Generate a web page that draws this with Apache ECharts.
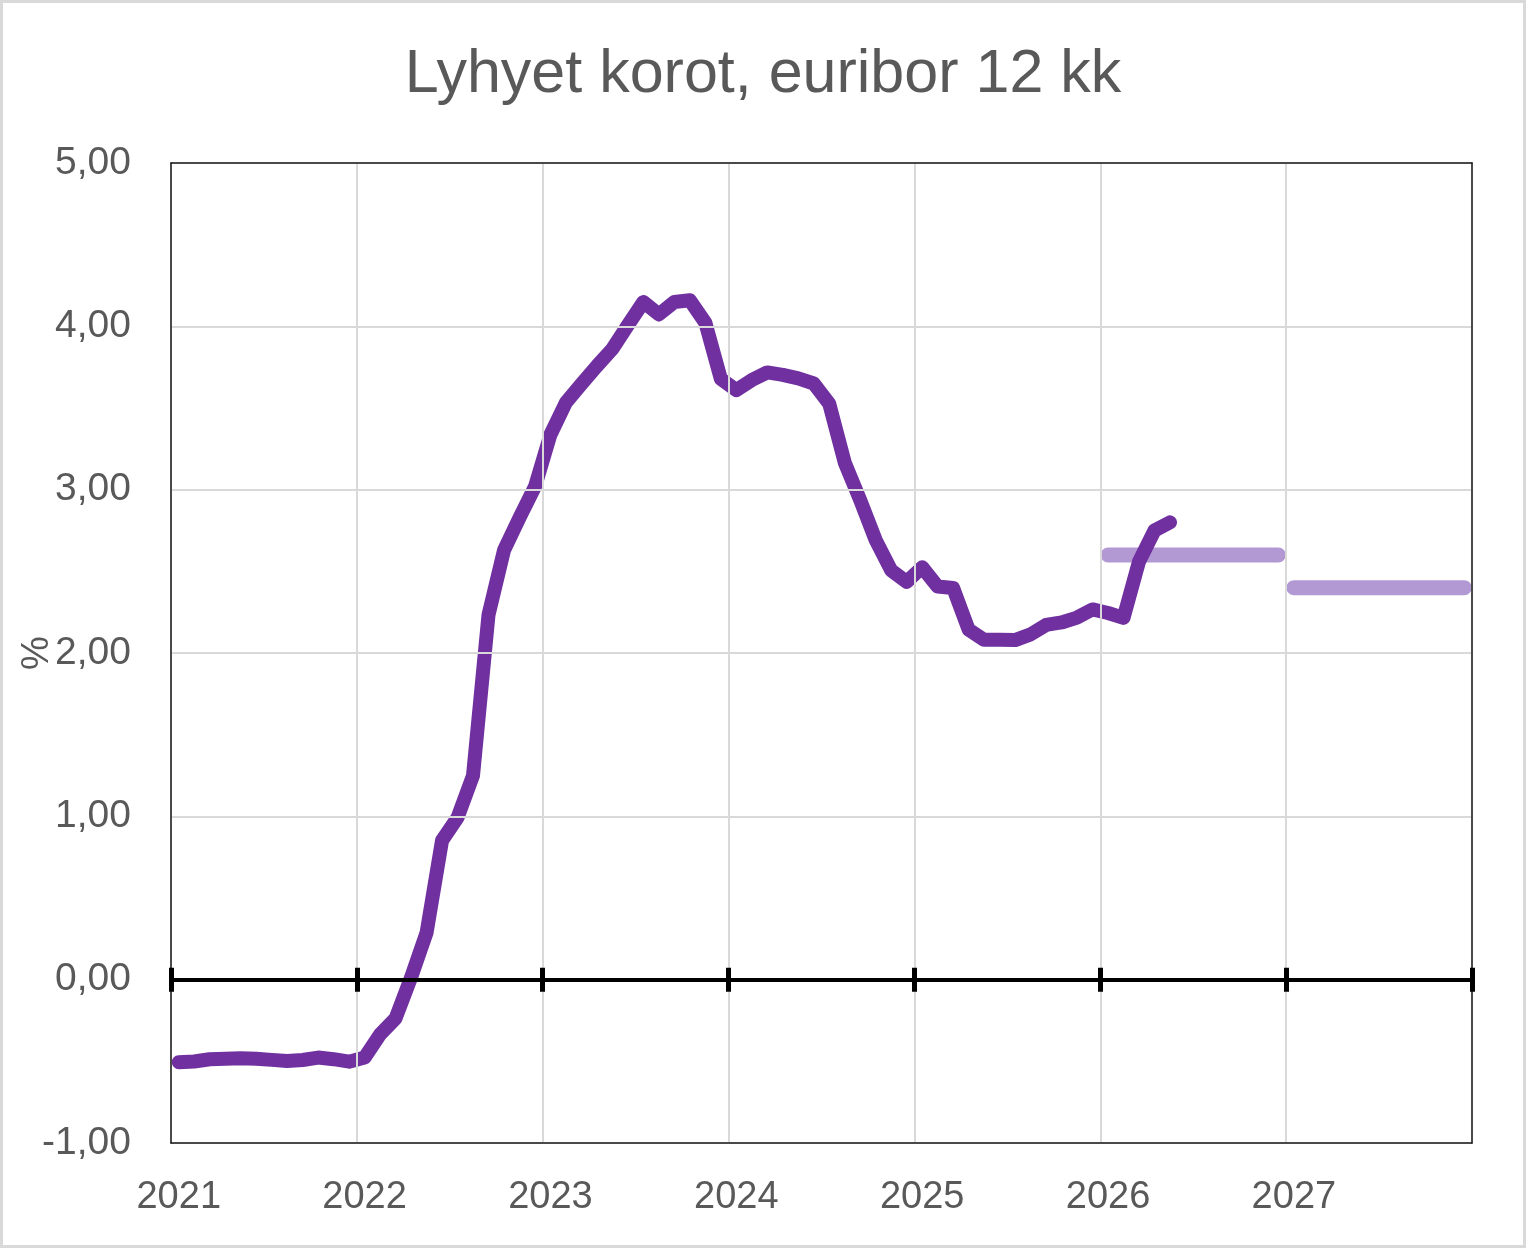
<!DOCTYPE html>
<html>
<head>
<meta charset="utf-8">
<script src="https://cdn.jsdelivr.net/npm/echarts@6/dist/echarts.min.js"></script>
<style>
  html, body { margin: 0; padding: 0; background: #fff; }
  #chart { width: 1526px; height: 1248px; }
</style>
</head>
<body>
<div id="chart"></div>
<script>
// vuodet ja kuukaudet x-akselille
var years = ['2021', '2022', '2023', '2024', '2025', '2026', '2027'];
var months = ['01', '02', '03', '04', '05', '06', '07', '08', '09', '10', '11', '12'];

// euribor 12 kk, kuukausikeskiarvot (%)
var euribor12 = [
    -0.505, -0.501, -0.487, -0.484, -0.481, -0.484, -0.491, -0.498, -0.492, -0.477, -0.487, -0.502,
    -0.477, -0.335, -0.237, 0.013, 0.287, 0.852, 0.992, 1.249, 2.233, 2.629, 2.828, 3.018,
    3.337, 3.534, 3.647, 3.757, 3.862, 4.007, 4.149, 4.073, 4.149, 4.160, 4.022, 3.679,
    3.609, 3.671, 3.718, 3.703, 3.681, 3.650, 3.526, 3.166, 2.936, 2.691, 2.506, 2.436,
    2.525, 2.407, 2.398, 2.143, 2.081, 2.081, 2.079, 2.114, 2.172, 2.187, 2.217, 2.267,
    2.245, 2.215, 2.56, 2.75, 2.80
];

// ennusteet
var ennuste2026 = [2.60, 2.60, 2.60, 2.60, 2.60, 2.60, 2.60, 2.60, 2.60, 2.60, 2.60, 2.60];
var ennuste2027 = [2.40, 2.40, 2.40, 2.40, 2.40, 2.40, 2.40, 2.40, 2.40, 2.40, 2.40, 2.40];

var yTicks = [-1, 0, 1, 2, 3, 4, 5];

var categories = [];
for (var i = 0; i < years.length; i++) {
    for (var j = 0; j < months.length; j++) {
        categories.push(years[i] + '-' + months[j]);
    }
}

function padSeries(values, start) {
    var out = [];
    for (var k = 0; k < categories.length; k++) {
        var v = values[k - start];
        out.push(v === undefined ? null : v);
    }
    return out;
}

var chartDom = document.getElementById('chart');
var myChart = echarts.init(chartDom);
var font = '"Liberation Sans", Arial, sans-serif';
var grey = '#595959';
var frame = { show: true, onZero: false, lineStyle: { color: '#1a1a1a', width: 1.5 } };

var option = {
    animation: false,
    backgroundColor: '#ffffff',
    title: {
        text: 'Lyhyet korot, euribor 12 kk',
        left: 'center',
        top: 45,
        padding: 0,
        textStyle: { fontFamily: font, fontSize: 61, fontWeight: 'normal', color: grey }
    },
    graphic: [{
        type: 'rect',
        shape: { x: 0, y: 0, width: 1526, height: 1248 },
        style: { fill: 'none', stroke: '#d9d9d9', lineWidth: 6 },
        silent: true,
        z: 100
    }, {
        // y-akselin nimi
        type: 'text',
        x: 38,
        y: 653,
        rotation: Math.PI / 2,
        style: {
            text: '%',
            fontFamily: font,
            fontSize: 38,
            fill: grey,
            textAlign: 'center',
            textVerticalAlign: 'middle'
        },
        silent: true
    }],
    grid: {
        left: 171, right: 54, top: 163, bottom: 105,
        outerBoundsMode: 'none',
        containLabel: false
    },
    xAxis: [{
        type: 'category',
        data: categories,
        boundaryGap: true,
        position: 'bottom',
        axisLine: frame,
        axisTick: { show: false, interval: 11 },
        splitLine: { show: true, interval: 11, lineStyle: { color: '#d9d9d9', width: 2 } },
        axisLabel: {
            interval: 11,
            margin: 36,
            fontFamily: font,
            fontSize: 38,
            color: grey,
            formatter: function (v) { return v.slice(0, 4); }
        },
        z: 5
    }, {
        type: 'category',
        data: categories,
        boundaryGap: true,
        position: 'top',
        axisLine: frame,
        axisTick: { show: false },
        axisLabel: { show: false },
        splitLine: { show: false },
        z: 5
    }, {
        type: 'category',
        data: categories,
        boundaryGap: true,
        position: 'bottom',
        axisLine: { show: true, onZero: true, lineStyle: { color: '#000', width: 4 } },
        axisTick: { show: true, interval: 11, length: 12, lineStyle: { color: '#000', width: 5 } },
        axisLabel: { show: false },
        splitLine: { show: false },
        z: 6
    }, {
        type: 'category',
        data: categories,
        boundaryGap: true,
        position: 'bottom',
        axisLine: { show: true, onZero: true, lineStyle: { color: '#000', width: 4 } },
        axisTick: { show: true, inside: true, interval: 11, length: 12, lineStyle: { color: '#000', width: 5 } },
        axisLabel: { show: false },
        splitLine: { show: false },
        z: 6
    }],
    yAxis: [{
        type: 'value',
        min: yTicks[0],
        max: yTicks[yTicks.length - 1],
        interval: 1,
        position: 'left',
        axisLine: frame,
        axisTick: { show: false },
        splitLine: { show: true, lineStyle: { color: '#d9d9d9', width: 2 } },
        axisLabel: {
            margin: 40,
            fontFamily: font,
            fontSize: 39,
            color: grey,
            formatter: function (v) { return v.toFixed(2).replace('.', ','); }
        },
        z: 5
    }, {
        type: 'value',
        min: yTicks[0],
        max: yTicks[yTicks.length - 1],
        interval: 1,
        position: 'right',
        axisLine: frame,
        axisTick: { show: false },
        axisLabel: { show: false },
        splitLine: { show: false },
        z: 5
    }],
    series: [{
        name: 'ennuste 2026',
        type: 'line',
        xAxisIndex: 0,
        data: padSeries(ennuste2026, 60),
        showSymbol: false,
        lineStyle: { color: '#b399d4', width: 15, cap: 'round' },
        z: 2
    }, {
        name: 'ennuste 2027',
        type: 'line',
        xAxisIndex: 0,
        data: padSeries(ennuste2027, 72),
        showSymbol: false,
        lineStyle: { color: '#b399d4', width: 15, cap: 'round' },
        z: 2
    }, {
        name: 'euribor 12 kk',
        type: 'line',
        xAxisIndex: 0,
        data: padSeries(euribor12, 0),
        showSymbol: false,
        lineStyle: { color: '#7030a0', width: 14, cap: 'round', join: 'round' },
        z: 3
    }]
};

option && myChart.setOption(option);
</script>
</body>
</html>
